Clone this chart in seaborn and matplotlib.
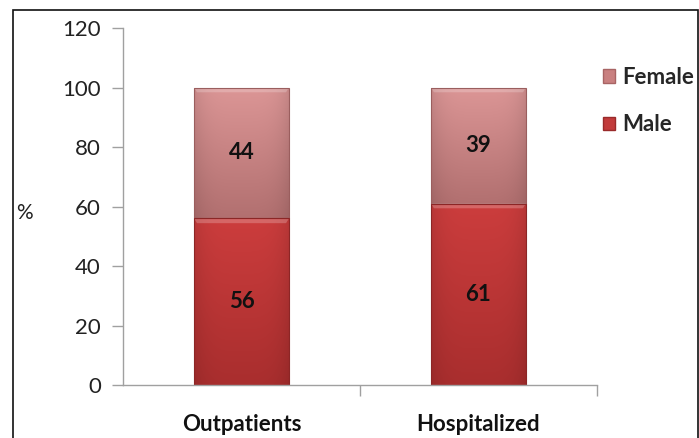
import numpy as np
import pandas as pd
import matplotlib
matplotlib.use("Agg")
import matplotlib.pyplot as plt
from matplotlib.patches import Rectangle, Patch, Polygon
import matplotlib.colors as mcolors
import seaborn as sns

categories = ["Outpatients", "Hospitalized"]
male = [56, 61]
female = [44, 39]

sns.set_theme(style="white")
plt.rcParams["font.family"] = ["Lato", "DejaVu Sans"]

df = pd.DataFrame({"group": categories, "male": male, "female": female})
df["total"] = df["male"] + df["female"]

fig = plt.figure(figsize=(6.99, 4.38), dpi=100)
ax = fig.add_axes([0.176, 0.121, 0.678, 0.815])

male_col = "#c23b3b"
female_col = "#cf8585"

# stacked bars: totals drawn first (female colour), male layer on top
sns.barplot(data=df, x="group", y="total", color=female_col, width=0.4,
            saturation=1, ax=ax, edgecolor="none")
sns.barplot(data=df, x="group", y="male", color=male_col, width=0.4,
            saturation=1, ax=ax, edgecolor="none")


def shade(patch, seg_bottom, top_col, bot_col, edge_col):
    """Fill a bar segment with a vertical gradient, darker sides and a bevelled top."""
    x0, w = patch.get_x(), patch.get_width()
    y1 = patch.get_y() + patch.get_height()
    y0 = seg_bottom
    h = y1 - y0
    top = np.array(mcolors.to_rgb(top_col))
    bot = np.array(mcolors.to_rgb(bot_col))
    ny, nx = 200, 120
    t = np.linspace(0, 1, ny)[:, None, None]          # 0 at top, 1 at bottom
    col = top * (1 - t) + bot * t
    u = np.linspace(-1, 1, nx)[None, :, None]
    side = 1 - 0.10 * np.abs(u) ** 4
    img = np.clip(col * side, 0, 1)
    im = ax.imshow(img, aspect="auto", extent=[x0, x0 + w, y0, y1],
                   zorder=patch.get_zorder() + 0.1, interpolation="bilinear")
    clip = Rectangle((x0, y0), w, h, transform=ax.transData)
    im.set_clip_path(clip)
    # bevel: lighter trapezoid along the top edge
    b = 1.6
    dx = 0.012
    ax.add_patch(Polygon([(x0, y1), (x0 + w, y1), (x0 + w - dx, y1 - b), (x0 + dx, y1 - b)],
                         closed=True, facecolor="white", alpha=0.22, edgecolor="none",
                         zorder=patch.get_zorder() + 0.2))
    ax.add_patch(Rectangle((x0, y0), w, h, facecolor="none", edgecolor=edge_col,
                           linewidth=0.8, zorder=patch.get_zorder() + 0.3))


patches = ax.patches[:]
for i, p in enumerate(patches[:2]):
    shade(p, male[i], "#dc9696", "#b27070", "#9a5e5e")
for i, p in enumerate(patches[2:4]):
    shade(p, 0, "#cc3d3d", "#a92e2e", "#8c2626")

for i in range(len(categories)):
    ax.text(i, male[i] / 2, f"{male[i]}", ha="center", va="center",
            fontsize=16, fontweight="bold", color="#111111", zorder=10)
    ax.text(i, male[i] + female[i] / 2, f"{female[i]}", ha="center", va="center",
            fontsize=16, fontweight="bold", color="#111111", zorder=10)

ax.set_xlim(-0.5, 1.5)
ax.set_ylim(0, 120)
ax.set_yticks(range(0, 121, 20))
ax.tick_params(axis="y", length=8, width=1, color="#a0a0a0", pad=8,
               labelsize=16, labelcolor="#222222", direction="out", left=True)
ax.set_xticks([0, 1])
ax.set_xticklabels(categories, fontsize=16, fontweight="bold", color="#111111")
ax.set_xticks([0.5, 1.5], minor=True)
ax.tick_params(axis="x", which="major", length=0, pad=21)
ax.tick_params(axis="x", which="minor", length=8, width=1, color="#a0a0a0",
               direction="out", bottom=True)
ax.set_xlabel("")
ax.set_ylabel("%", rotation=0, fontsize=15, color="#222222", labelpad=0,
              ha="center", va="center")
ax.yaxis.set_label_coords(-0.207, 0.482)

for s in ["top", "right"]:
    ax.spines[s].set_visible(False)
for s in ["left", "bottom"]:
    ax.spines[s].set_color("#a0a0a0")
    ax.spines[s].set_linewidth(1)

handles = [Patch(facecolor="#c98080", edgecolor="#a86464", label="Female"),
           Patch(facecolor="#c23b3b", edgecolor="#992a2a", label="Male")]
fig.legend(handles=handles, loc="upper left", bbox_to_anchor=(0.84, 0.883),
           frameon=False, handlelength=0.55, handleheight=0.55,
           handletextpad=0.35, labelspacing=1.2, borderpad=0.2,
           prop={"family": ["Lato", "DejaVu Sans"], "weight": "bold", "size": 16})

# outer frame around the chart area
fig.add_artist(Rectangle((13 / 699, -0.05), (698 - 13) / 699, 1.05 - 10 / 438,
                         transform=fig.transFigure, facecolor="none",
                         edgecolor="#111111", linewidth=1.2, clip_on=False))

fig.savefig("out.png", dpi=100)
